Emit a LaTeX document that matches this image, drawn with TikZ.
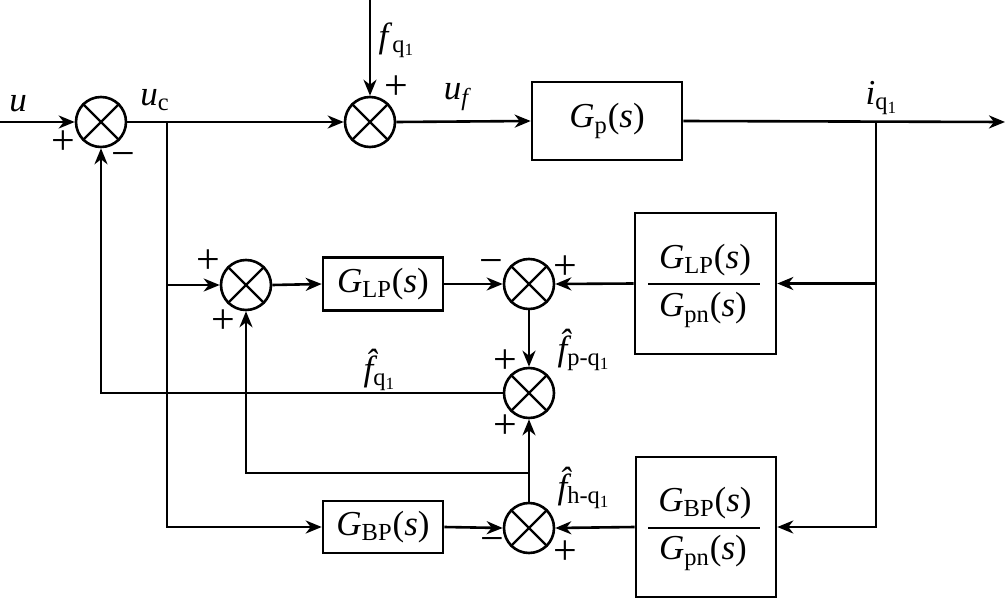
\documentclass[tikz,border=0pt]{standalone}
\usepackage{fontspec}
\setmainfont{Liberation Serif}
\usetikzlibrary{arrows.meta}
\newcommand{\sbs}[1]{\textsubscript{#1}}
\newcommand{\fhat}{{\^{\itshape f}}}
\begin{document}
\begin{tikzpicture}[x=0.5pt,y=-0.5pt,line width=1.3pt,
  font=\fontsize{17.5}{21}\selectfont,
  sum/.style={circle,draw,minimum size=25pt,inner sep=0pt},
  blk/.style={draw,inner sep=0pt,align=center},
  arr/.style={-{Stealth[length=8pt,width=6.5pt,inset=2.5pt]}},
  lbl/.style={inner sep=0pt},
  sgn/.style={inner sep=0pt,font=\fontsize{21}{24}\selectfont}]
\useasboundingbox (0,0) rectangle (1006,599);
% summing junctions
\node[sum] (s1) at (101,122) {};
\node[sum] (s2) at (370,122) {};
\node[sum] (s3) at (246,285) {};
\node[sum] (s4) at (529,284) {};
\node[sum] (s5) at (529,393) {};
\node[sum] (s6) at (529,528) {};
\foreach \n in {s1,s2,s3,s4,s5,s6}{
  \draw[line width=1.1pt] (\n.45) -- (\n.225) (\n.135) -- (\n.315);
}
% blocks
\node[blk,minimum width=75pt,minimum height=39pt] (gp) at (607,121) {{\itshape G}\sbs{p}(\textit{s})};
\node[blk,minimum width=60pt,minimum height=26.5pt] (glp) at (383,284) {{\itshape G}\sbs{LP}(\textit{s})};
\node[blk,minimum width=60pt,minimum height=26pt] (gbp) at (383,527) {{\itshape G}\sbs{BP}(\textit{s})};
\node[blk,minimum width=70.5pt,minimum height=70.5pt] (glpn) at (705.5,283.5) {};
\node[blk,minimum width=70pt,minimum height=70pt] (gbpn) at (706,527) {};
\node[lbl] (glpnum) at (705,260) {{\itshape G}\sbs{LP}(\textit{s})};
\node[lbl] (glpden) at (703,310) {{\itshape G}\sbs{pn}(\textit{s})};
\node[lbl] (gbpnum) at (705,503) {{\itshape G}\sbs{BP}(\textit{s})};
\node[lbl] (gbpden) at (703,553) {{\itshape G}\sbs{pn}(\textit{s})};
\draw (648,284) -- (760,284);
\draw (648,528) -- (760,528);
% coordinates
\coordinate (in) at (0,122);
\coordinate (out) at (1005,122);
\coordinate (ftop) at (370,0);
\coordinate (uc) at (167,122);
\coordinate (iq) at (876,122);
\coordinate (hj) at (529,473);
% connectors
\draw[arr] (in) -- (s1.west);
\draw[arr] (s1.east) -- (s2.west);
\draw[arr] (ftop) -- (s2.north);
\draw[arr] (s2.east) -- (gp.west);
\draw[arr] (gp.east) -- (out);
\draw[arr] (iq) |- (gbpn.east);
\draw[arr] (iq |- glpn.east) -- (glpn.east);
\draw[arr] (uc) |- (gbp.west);
\draw[arr] (uc |- s3.west) -- (s3.west);
\draw[arr] (s3.east) -- (glp.west);
\draw[arr] (glp.east) -- (s4.west);
\draw[arr] (glpn.west) -- (s4.east);
\draw[arr] (s4.south) -- (s5.north);
\draw[arr] (s5.west) -| (s1.south);
\draw[arr] (s6.north) -- (s5.south);
\draw[arr] (hj) -| (s3.south);
\draw[arr] (gbp.east) -- (s6.west);
\draw[arr] (gbpn.west) -- (s6.east);
% labels
\node[lbl] (lu) at (18,104) {\textit{u}};
\node[lbl] (luc) at (155,100) {\textit{u}\sbs{c}};
\node[lbl] (lf) at (397,40) {\textit{f}\sbs{q\sbs{1}}};
\node[lbl] (luf) at (458,97) {\textit{u}\sbs{\textit{f}}};
\node[lbl] (liq) at (882,98) {\textit{i}\sbs{q\sbs{1}}};
\node[lbl] (lfp) at (584,350) {\fhat\sbs{p-q\sbs{1}}};
\node[lbl] (lfh) at (584,488) {\fhat\sbs{h-q\sbs{1}}};
\node[lbl] (lfq) at (380,370) {\fhat\sbs{q\sbs{1}}};
% signs
\node[sgn] (p1) at (63,143) {+};
\node[sgn] (m1) at (123,160) {−};
\node[sgn] (p2) at (396,88) {+};
\node[sgn] (p3) at (208,262) {+};
\node[sgn] (p4) at (223,322) {+};
\node[sgn] (m4) at (491,267) {−};
\node[sgn] (p5) at (565,268) {+};
\node[sgn] (p6) at (505,362) {+};
\node[sgn] (p7) at (505,427) {+};
\node[sgn] (m6) at (492,545) {−};
\node[sgn] (p8) at (565,553) {+};
\end{tikzpicture}
\end{document}
